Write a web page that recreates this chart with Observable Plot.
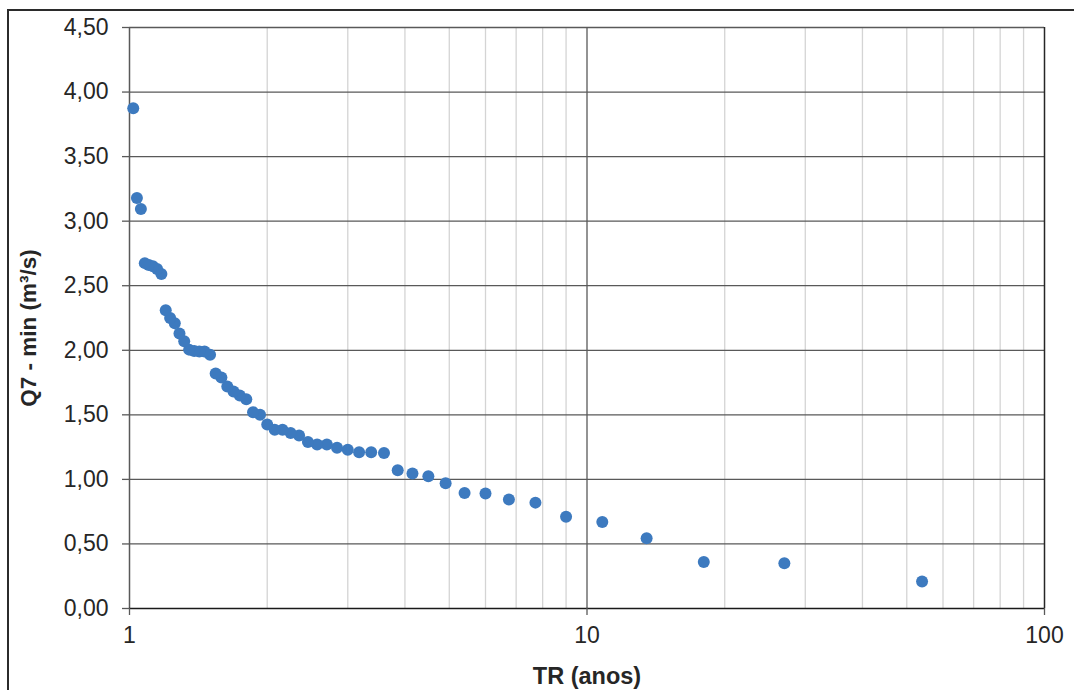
<!DOCTYPE html>
<html>
<head>
<meta charset="utf-8">
<script src="https://cdn.jsdelivr.net/npm/d3@7"></script>
<script src="https://cdn.jsdelivr.net/npm/@observablehq/plot@0.6"></script>
<style>
  html, body { margin: 0; padding: 0; background: #fff; overflow: hidden; }
  #wrap { position: relative; width: 1074px; height: 690px; }
  #border { position: absolute; left: 7px; top: 9px; width: 1100px; height: 720px;
            border-left: 2px solid #2b2b2b; border-top: 2px solid #2b2b2b; box-sizing: border-box; }
  #chart { position: absolute; left: 0; top: 0; }
</style>
</head>
<body>
<div id="wrap"><div id="border"></div><div id="chart"></div></div>
<script>
// Return period (anos) of each ranked observation
const tr = [54, 27, 18, 13.5, 10.8, 9, 7.714, 6.75, 6, 5.4, 4.909, 4.5, 4.154, 3.857, 3.6, 3.375,
  3.176, 3, 2.842, 2.7, 2.571, 2.455, 2.348, 2.25, 2.16, 2.077, 2, 1.929, 1.862, 1.8, 1.742,
  1.688, 1.636, 1.588, 1.543, 1.5, 1.459, 1.421, 1.385, 1.35, 1.317, 1.286, 1.256, 1.227, 1.2,
  1.174, 1.149, 1.125, 1.102, 1.08, 1.059, 1.038, 1.019];
// Q7 - min (m3/s)
const q7 = [0.21, 0.35, 0.36, 0.545, 0.67, 0.71, 0.82, 0.845, 0.89, 0.895, 0.97, 1.025, 1.045,
  1.07, 1.205, 1.21, 1.21, 1.23, 1.245, 1.27, 1.27, 1.29, 1.34, 1.36, 1.385, 1.385, 1.425, 1.50,
  1.52, 1.62, 1.65, 1.68, 1.72, 1.79, 1.82, 1.965, 1.99, 1.99, 1.995, 2.005, 2.07, 2.13, 2.21,
  2.25, 2.31, 2.59, 2.63, 2.65, 2.66, 2.675, 3.095, 3.18, 3.875];

const yTicks = [0, 0.5, 1, 1.5, 2, 2.5, 3, 3.5, 4, 4.5];
const xTicks = [1, 10, 100];
const xMinor = [2, 3, 4, 5, 6, 7, 8, 9, 20, 30, 40, 50, 60, 70, 80, 90];
const xLabel = "TR (anos)";
const yLabel = "Q7 - min (m³/s)";

const data = tr.map((t, i) => ({tr: t, q: q7[i]}));
const fmt = d => d.toFixed(2).replace(".", ",");

const chart = Plot.plot({
  width: 1074,
  height: 690,
  marginLeft: 129,
  marginRight: 30,
  marginTop: 27,
  marginBottom: 82,
  style: {fontFamily: "'Liberation Sans', Arial, sans-serif", fontSize: "23px", color: "#262626", background: "transparent", overflow: "visible"},
  x: {type: "log", domain: [1, 100]},
  y: {domain: [0, 4.5]},
  marks: [
    Plot.gridX(xMinor, {stroke: "#d4d4d4", strokeOpacity: 1, strokeWidth: 1.3}),
    Plot.gridX([10], {stroke: "#595959", strokeOpacity: 1, strokeWidth: 1.3}),
    Plot.gridY(yTicks.filter(d => d > 0), {stroke: "#595959", strokeOpacity: 1, strokeWidth: 1.3}),
    Plot.ruleX([1], {stroke: "#595959", strokeWidth: 1.5}),
    Plot.ruleX([100], {stroke: "#262626", strokeWidth: 1.5}),
    Plot.ruleY([0], {stroke: "#1a1a1a", strokeWidth: 1.5}),
    Plot.axisY({ticks: yTicks, tickFormat: fmt, tickSize: 7, tickPadding: 14, stroke: "#595959", strokeWidth: 1.3, label: null, fontSize: 23}),
    Plot.axisX({ticks: xTicks, tickFormat: d => String(d), tickSize: 7, tickPadding: 11, stroke: "#595959", strokeWidth: 1.3, label: null, fontSize: 23}),
    Plot.dot(data, {x: "tr", y: "q", r: 6, fill: "#3d7abf", stroke: "none"}),
    Plot.text([xLabel], {frameAnchor: "bottom", lineAnchor: "middle", textAnchor: "middle", dy: 68, fontWeight: "bold", fontSize: 23.5, fill: "#262626"}),
    Plot.text([yLabel], {frameAnchor: "left", lineAnchor: "middle", textAnchor: "middle", dx: -101, dy: 10, rotate: -90, fontWeight: "bold", fontSize: 22.5, fill: "#262626"})
  ]
});
document.getElementById("chart").appendChild(chart);
</script>
</body>
</html>
